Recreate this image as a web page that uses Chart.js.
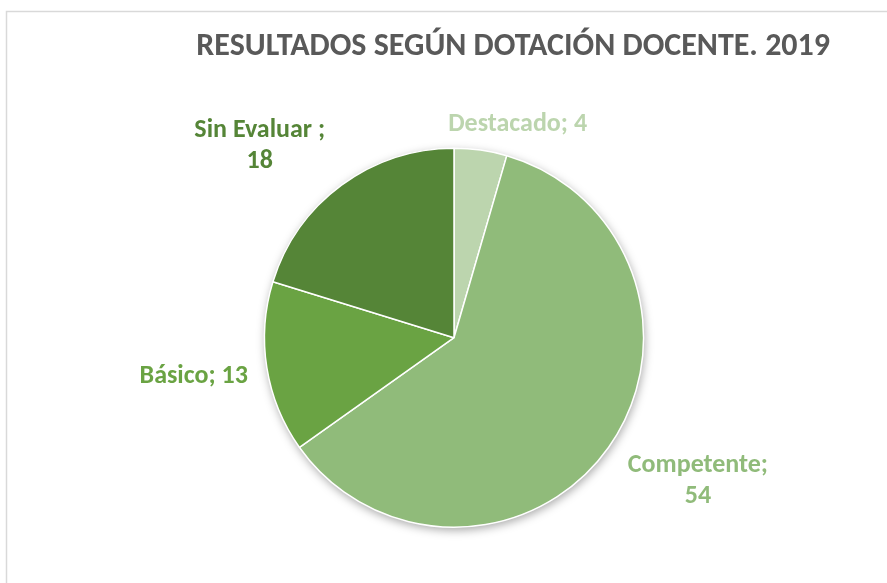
<!DOCTYPE html>
<html>
<head>
<meta charset="utf-8">
<script src="https://cdn.jsdelivr.net/npm/chart.js@4/dist/chart.umd.min.js"></script>
<style>
  html, body { margin: 0; padding: 0; background: #fff; }
  #wrap { width: 887px; height: 583px; position: relative; }
</style>
</head>
<body>
<div id="wrap"><canvas id="out"></canvas></div>
<script>
// datos del gráfico
const categorias = ["Destacado", "Competente", "Básico", "Sin Evaluar"];
const valores = [4, 54, 13, 18];
// etiquetas tal cual aparecen (con salto de línea donde Excel lo cortó)
const etiquetas = [["Destacado; 4"], ["Competente;", "54"], ["Básico; 13"], ["Sin Evaluar ;", "18"]];
const colores = ["#BCD5AE", "#90BB7A", "#6AA343", "#558537"];

const FONT = "Carlito, Lato, sans-serif";

// pequeños ajustes de posición de etiquetas (Excel "mejor ajuste")
const nudges = [[32, 9], [20, -16], [-8, -2], [-38, 20]];

const framePlugin = {
  id: "frame",
  beforeDraw(chart) {
    const ctx = chart.ctx;
    ctx.save();
    ctx.fillStyle = "#fff";
    ctx.fillRect(0, 0, chart.width, chart.height);
    ctx.strokeStyle = "#d9d9d9";
    ctx.lineWidth = 1.5;
    ctx.strokeRect(6.5, 11.5, chart.width + 20, chart.height + 20);
    ctx.restore();
  }
};

// sombra suave bajo el pastel
const shadowPlugin = {
  id: "pieShadow",
  beforeDatasetsDraw(chart) {
    const arc = chart.getDatasetMeta(0).data[0];
    if (!arc) return;
    const { x, y, outerRadius } = arc.getProps(["x", "y", "outerRadius"], true);
    const ctx = chart.ctx;
    ctx.save();
    ctx.shadowColor = "rgba(0,0,0,0.35)";
    ctx.shadowBlur = 10;
    ctx.shadowOffsetX = 1;
    ctx.shadowOffsetY = 3;
    ctx.fillStyle = "#fff";
    ctx.beginPath();
    ctx.arc(x, y, outerRadius, 0, Math.PI * 2);
    ctx.fill();
    ctx.restore();
  }
};

// etiquetas fuera del pastel
const labelPlugin = {
  id: "outLabels",
  afterDatasetsDraw(chart) {
    const ctx = chart.ctx;
    const meta = chart.getDatasetMeta(0);
    ctx.save();
    ctx.font = "bold 26px " + FONT;
    ctx.textAlign = "center";
    ctx.textBaseline = "middle";
    const lh = 31;
    meta.data.forEach((arc, i) => {
      const p = arc.getProps(["x", "y", "startAngle", "endAngle", "outerRadius"], true);
      const mid = (p.startAngle + p.endAngle) / 2;
      const dx = Math.cos(mid), dy = Math.sin(mid);
      const lines = etiquetas[i];
      const w = Math.max(...lines.map(l => ctx.measureText(l).width));
      const h = lines.length * lh;
      const dist = p.outerRadius + 10 + Math.abs(dx) * w / 2 + Math.abs(dy) * h / 2;
      const cx = p.x + dx * dist + nudges[i][0];
      const cy = p.y + dy * dist + nudges[i][1];
      ctx.fillStyle = colores[i];
      lines.forEach((l, k) => {
        ctx.fillText(l, cx, cy - h / 2 + lh / 2 + k * lh);
      });
    });
    ctx.restore();
  }
};

const ctx = document.getElementById("out").getContext("2d");

new Chart(ctx, {
  type: "pie",
  data: {
    labels: categorias,
    datasets: [{
      data: valores,
      backgroundColor: colores,
      borderColor: "#ffffff",
      borderWidth: 1.5
    }]
  },
  options: {
    responsive: true,
    maintainAspectRatio: false,
    animation: false,
    layout: { padding: { left: 78, right: 57, top: 10, bottom: 55 } },
    plugins: {
      legend: { display: false },
      tooltip: { enabled: false },
      title: {
        display: true,
        text: "RESULTADOS SEGÚN DOTACIÓN DOCENTE. 2019",
        align: "end",
        color: "#595959",
        font: { family: FONT, size: 32, weight: "bold" },
        padding: { top: 18, bottom: 81 }
      }
    }
  },
  plugins: [framePlugin, shadowPlugin, labelPlugin]
});
</script>
</body>
</html>
